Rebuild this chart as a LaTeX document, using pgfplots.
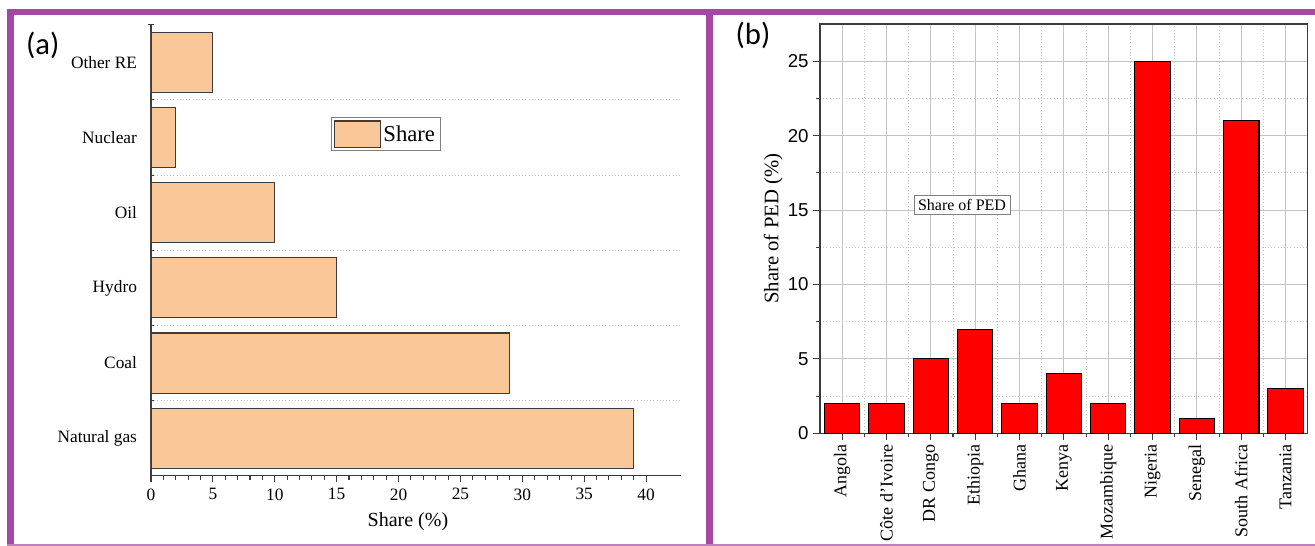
\documentclass[border=0pt]{standalone}
\usepackage{fontspec}
\setmainfont{Liberation Serif}
\newfontfamily\arialf{Liberation Sans}
\newfontfamily\calib{Carlito}
\usepackage{pgfplots}
\pgfplotsset{compat=1.18}
\definecolor{frame}{HTML}{A349A4}
\definecolor{peach}{HTML}{FAC898}
\definecolor{gridg}{HTML}{C4C4C4}
\definecolor{axg}{HTML}{3C3C3C}
\begin{document}
\begin{tikzpicture}
\path[use as bounding box] (0,0) rectangle (986.25pt,-409.5pt);
\fill[white] (0,0) rectangle (986.25pt,-409.5pt);

% ---------------- Panel (a)
\begin{axis}[
  at={(113.25pt,-356.85pt)}, anchor=south west,
  scale only axis, width=397.3pt, height=338.3pt,
  xbar, bar width=0.8,
  xmin=0, xmax=42.8, ymin=-0.5, ymax=5.5,
  axis x line*=bottom, axis y line*=left,
  axis line style={axg, line width=0.9pt},
  tick style={axg, line width=0.8pt},
  tick align=outside,
  xtick={0,5,...,40}, minor x tick num=4,
  major tick length=5pt, minor tick length=3pt,
  ytick={0,...,5},
  yticklabels={Natural gas,Coal,Hydro,Oil,Nuclear,Other RE},
  major y tick style={draw=none},
  minor ytick={0.5,1.5,...,4.5},
  minor y tick style={xshift=2pt},
  yminorgrids,
  minor grid style={gridg, dotted, line width=0.7pt},
  extra y ticks={5.5}, extra y tick labels={},
  extra y tick style={grid=none, major tick length=4pt, major y tick style={draw=axg, xshift=2pt}},
  /pgf/number format/assume math mode=true,
  xticklabel style={font=\fontsize{13}{13}\selectfont, yshift=-1pt},
  yticklabel style={font=\fontsize{13}{13}\selectfont, xshift=-2pt},
  xlabel={Share (\%)},
  xlabel style={at={(axis description cs:0.485,-0.102)}, anchor=center, font=\fontsize{15}{15}\selectfont},
  legend style={at={(0.34,0.795)}, anchor=north west, draw=gray, line width=0.7pt,
    inner sep=2pt, font=\fontsize{17}{17}\selectfont},
  legend image code/.code={\draw[#1, line width=0.9pt] (0pt,-10pt) rectangle (34pt,10pt);},
]
\addplot[fill=peach, draw=axg, line width=0.8pt] coordinates {(39,0) (29,1) (15,2) (10,3) (2,4) (5,5)};
\addlegendentry{Share}
\end{axis}

% ---------------- Panel (b)
\begin{axis}[
  at={(615pt,-325pt)}, anchor=south west,
  scale only axis, width=365.8pt, height=307pt,
  ybar, bar width=0.8,
  xmin=-0.5, xmax=10.5, ymin=0, ymax=27.5,
  axis line style={axg, line width=0.9pt},
  tick style={axg, line width=0.8pt},
  tick align=outside, xtick pos=bottom, ytick pos=left,
  major tick length=5pt, minor tick length=3pt,
  xtick={0,...,10},
  xticklabels={Angola,Côte d'Ivoire,DR Congo,Ethiopia,Ghana,Kenya,Mozambique,Nigeria,Senegal,South Africa,Tanzania},
  minor xtick={0.5,1.5,...,9.5},
  ytick={0,5,...,25}, minor ytick={2.5,7.5,...,22.5},
  xmajorgrids, ymajorgrids, xminorgrids, yminorgrids,
  major grid style={gridg, line width=0.7pt},
  minor grid style={gridg, dotted, line width=0.7pt},
  /pgf/number format/assume math mode=true,
  xticklabel style={rotate=90, anchor=east, font=\fontsize{13.5}{13.5}\selectfont},
  yticklabel style={font=\arialf\fontsize{14}{14}\selectfont},
  ylabel={Share of PED (\%)},
  ylabel style={at={(axis description cs:-0.096,0.5)}, anchor=center, font=\fontsize{15.5}{15.5}\selectfont},
]
\addplot[fill=red, draw=black, line width=0.8pt] coordinates {(0,2) (1,2) (2,5) (3,7) (4,2) (5,4) (6,2) (7,25) (8,1) (9,21) (10,3)};
\end{axis}

\node[draw=gray, line width=0.6pt, fill=white, inner sep=3pt, font=\fontsize{12}{12}\selectfont] at (721.5pt,-153.75pt) {Share of PED};

% panel labels
\node[font=\calib\fontsize{23}{23}\selectfont] at (32pt,-33.75pt) {(a)};
\node[font=\calib\fontsize{23}{23}\selectfont] at (564.75pt,-26.25pt) {(b)};

% purple frame
\draw[frame, line width=4pt] (5.25pt,-9pt) -- (986.25pt,-9pt);
\draw[frame, line width=5.25pt] (7.9pt,-7pt) -- (7.9pt,-409.5pt);
\draw[frame, line width=5.25pt] (532.1pt,-7pt) -- (532.1pt,-409.5pt);
\draw[frame!70, line width=1.5pt] (5.25pt,-408.75pt) -- (986.25pt,-408.75pt);
\end{tikzpicture}
\end{document}
